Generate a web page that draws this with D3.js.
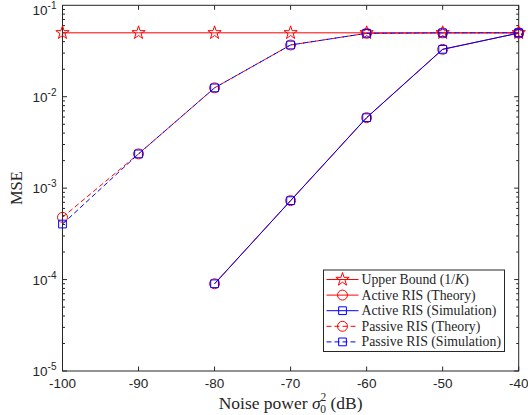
<!DOCTYPE html>
<html><head><meta charset="utf-8">
<script src="https://cdn.jsdelivr.net/npm/d3@7"></script>
<style>body{margin:0;background:#fff}</style>
</head><body>
<svg id="c" width="528" height="415"></svg>
<script>
const noise = [-100, -90, -80, -70, -60, -50, -40];
const upperBound = [0.05, 0.05, 0.05, 0.05, 0.05, 0.05, 0.05];
const activeTheory = [null, null, 9.0e-5, 7.3e-4, 5.9e-3, 0.033, 0.0497];
const activeSim = [null, null, 9.0e-5, 7.3e-4, 5.9e-3, 0.033, 0.0497];
const passiveTheory = [4.8e-4, 2.37e-3, 0.0125, 0.0368, 0.0494, 0.0499, 0.05];
const passiveSim = [4.05e-4, 2.37e-3, 0.0125, 0.0368, 0.0494, 0.0499, 0.05];
const xTicks = [-100, -90, -80, -70, -60, -50, -40];
const yExps = [-1, -2, -3, -4, -5];

const svg = d3.select('#c');
const L = 62.5, R = 518.7, T = 5.3, B = 371;
const x = d3.scaleLinear().domain([-100, -40]).range([L, R]);
const y = d3.scaleLog().domain([1e-5, 1e-1]).range([B, T]);
const tickFont = '"Liberation Sans", Arial, sans-serif';
const serif = '"Liberation Serif", "Times New Roman", serif';

svg.append('rect').attr('x', L).attr('y', T).attr('width', R - L).attr('height', B - T).attr('fill', '#fff');

const g = svg.append('g');
xTicks.forEach(v => {
  g.append('line').attr('x1', x(v)).attr('x2', x(v)).attr('y1', B).attr('y2', B - 4.5).attr('stroke', '#262626');
  g.append('line').attr('x1', x(v)).attr('x2', x(v)).attr('y1', T).attr('y2', T + 4.5).attr('stroke', '#262626');
  g.append('text').attr('x', x(v)).attr('y', B + 17).attr('text-anchor', 'middle')
    .attr('font-family', tickFont).attr('font-size', 13.5).attr('fill', '#262626').text(v);
});
for (let e = -5; e <= -2; e++) {
  const base = Math.pow(10, e);
  [1,2,3,4,5,6,7,8,9].forEach(m => {
    const v = m * base;
    const len = m === 1 ? 4.5 : 2.5;
    g.append('line').attr('x1', L).attr('x2', L + len).attr('y1', y(v)).attr('y2', y(v)).attr('stroke', '#262626');
    g.append('line').attr('x1', R).attr('x2', R - len).attr('y1', y(v)).attr('y2', y(v)).attr('stroke', '#262626');
  });
}
yExps.forEach(e => {
  const off = e === -1 ? 10 : 5;
  const t = g.append('text').attr('x', L - 6).attr('y', y(Math.pow(10, e)) + off).attr('text-anchor', 'end')
    .attr('font-family', tickFont).attr('font-size', 13.5).attr('fill', '#262626');
  t.append('tspan').text('10');
  t.append('tspan').attr('dy', -6).attr('font-size', 10).text(e);
});

svg.append('rect').attr('x', L).attr('y', T).attr('width', R - L).attr('height', B - T)
  .attr('fill', 'none').attr('stroke', '#262626').attr('stroke-width', 1);

svg.append('text').attr('transform', `translate(22,${(T + B) / 2}) rotate(-90)`).attr('text-anchor', 'middle')
  .attr('font-family', serif).attr('font-size', 16.5).attr('fill', '#262626').text('MSE');
const xl = svg.append('text').attr('x', (L + R) / 2).attr('y', 409).attr('text-anchor', 'middle')
  .attr('font-family', serif).attr('font-size', 17.5).attr('fill', '#262626');
xl.append('tspan').text('Noise power ');
xl.append('tspan').attr('font-style', 'italic').text('σ');
xl.append('tspan').attr('font-size', 11.5).attr('dy', -8).text('2');
xl.append('tspan').attr('font-size', 11.5).attr('dx', -6).attr('dy', 12).text('0');
xl.append('tspan').attr('dy', -4).text(' (dB)');

const series = [
  {name: 'Upper Bound (1/K)', vals: upperBound, color: '#ff0000', dash: null, marker: 'star'},
  {name: 'Active RIS (Theory)', vals: activeTheory, color: '#ff0000', dash: null, marker: 'circle'},
  {name: 'Active RIS (Simulation)', vals: activeSim, color: '#0000ff', dash: null, marker: 'square'},
  {name: 'Passive RIS (Theory)', vals: passiveTheory, color: '#ff0000', dash: '5,3', marker: 'circle'},
  {name: 'Passive RIS (Simulation)', vals: passiveSim, color: '#0000ff', dash: '5,3', marker: 'square'}
];
const symType = {star: d3.symbolStar, circle: d3.symbolCircle, square: d3.symbolSquare};
const symSize = {star: 55, circle: 78, square: 60};
const line = d3.line().defined(d => d[1] != null).x(d => x(d[0])).y(d => y(d[1]));
const pg = svg.append('g');
function drawMarker(sel, s, cx, cy) {
  sel.append('path').attr('d', d3.symbol().type(symType[s.marker]).size(symSize[s.marker])())
    .attr('transform', `translate(${cx},${cy})`).attr('fill', 'none').attr('stroke', s.color).attr('stroke-width', 1);
}
series.forEach(s => {
  const pts = noise.map((n, i) => [n, s.vals[i]]);
  pg.append('path').datum(pts).attr('d', line).attr('fill', 'none').attr('stroke', s.color)
    .attr('stroke-width', 1).attr('stroke-dasharray', s.dash);
  pts.filter(p => p[1] != null).forEach(p => drawMarker(pg, s, x(p[0]), y(p[1])));
});

const lx = 323.5, ly = 270, lw = 181, lh = 81.5;
const lg = svg.append('g');
lg.append('rect').attr('x', lx).attr('y', ly).attr('width', lw).attr('height', lh)
  .attr('fill', '#fff').attr('stroke', '#262626').attr('stroke-width', 1);
series.forEach((s, i) => {
  const yy = ly + 9.5 + i * 15.6;
  lg.append('line').attr('x1', lx + 3).attr('x2', lx + 35).attr('y1', yy).attr('y2', yy)
    .attr('stroke', s.color).attr('stroke-width', 1).attr('stroke-dasharray', s.dash);
  drawMarker(lg, s, lx + 19, yy);
  const t = lg.append('text').attr('x', lx + 38).attr('y', yy + 4.5).attr('font-family', serif)
    .attr('font-size', 13.8).attr('fill', '#262626');
  if (i === 0) {
    t.append('tspan').text('Upper Bound (1/');
    t.append('tspan').attr('font-style', 'italic').text('K');
    t.append('tspan').text(')');
  } else t.text(s.name);
});
</script>
</body></html>
